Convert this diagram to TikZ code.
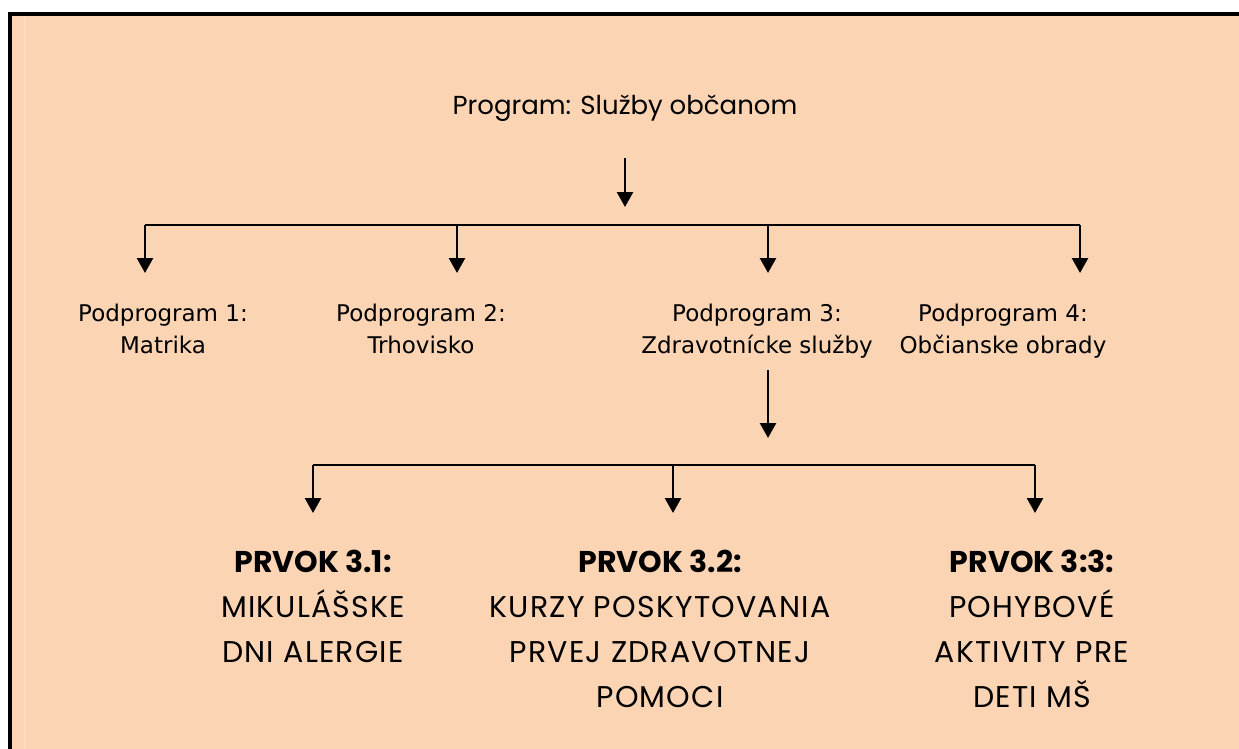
\documentclass[tikz,border=0pt]{standalone}
\usepackage{fontspec}
\setmainfont{DejaVu Sans}
\newfontfamily\geofont{Poppins}
\newfontfamily\geowide[LetterSpace=4]{Poppins}
\usetikzlibrary{arrows.meta}
\definecolor{peach}{HTML}{FBD4B4}
\definecolor{peachlight}{HTML}{FCDCC2}
\tikzset{
  arr/.style={line width=2.5pt, -{Triangle[width=16pt,length=15pt]}},
  bus/.style={line width=2.5pt},
  titletext/.style={inner sep=0pt, anchor=base, font=\geofont\fontsize{26}{32}\selectfont},
  subtext/.style={inner sep=0pt, anchor=base, align=center, font=\fontsize{23}{32}\selectfont},
  elemtext/.style={inner sep=0pt, anchor=base, align=center, font=\geowide\fontsize{30}{45}\selectfont},
  elemhead/.style={font=\geofont\bfseries\fontsize{30}{45}\selectfont},
}
\newcommand{\elemhd}[1]{{\geofont\bfseries\fontsize{30}{45}\selectfont #1}}
\begin{document}
\begin{tikzpicture}[x=1pt,y=-1pt]
  \useasboundingbox (0,0) rectangle (1239,749);
  % frame: heavy top and left rule, peach panel
  \fill[white] (0,0) rectangle (1239,749);
  \fill[black] (8,12) rectangle (1239,749);
  \fill[peach] (12,16) rectangle (1239,749);
  \draw[peachlight, line width=1pt] (24,16) -- (24,749);

  % programme title
  \node[titletext] (prog) at (625,115) {Program: Služby občanom};

  % sub-programmes (anchored on the baseline of the last line)
  \node[subtext] (p1) at (163,353) {Podprogram 1:\\Matrika};
  \node[subtext] (p2) at (421,353) {Podprogram 2:\\Trhovisko};
  \node[subtext] (p3) at (757,353) {Podprogram 3:\\Zdravotnícke služby};
  \node[subtext] (p4) at (1003,353) {Podprogram 4:\\Občianske obrady};

  % elements of sub-programme 3
  \node[elemtext] (e1) at (313,662) {\elemhd{PRVOK 3.1:}\\MIKULÁŠSKE\\DNI ALERGIE};
  \node[elemtext] (e2) at (660,707) {\elemhd{PRVOK 3.2:}\\KURZY POSKYTOVANIA\\PRVEJ ZDRAVOTNEJ\\POMOCI};
  \node[elemtext] (e3) at (1032,707) {\elemhd{PRVOK 3:3:}\\POHYBOVÉ\\AKTIVITY PRE\\DETI MŠ};

  % first level connectors
  \coordinate (t0) at (625,158);
  \coordinate (t1) at (625,207);
  \coordinate (b1) at (145,225);
  \coordinate (b2) at (457,225);
  \coordinate (b3) at (768,225);
  \coordinate (b4) at (1080,225);
  \coordinate (a1) at (145,273);
  \coordinate (a2) at (457,273);
  \coordinate (a3) at (768,273);
  \coordinate (a4) at (1080,273);
  \draw[arr] (t0) -- (t1);
  \draw[bus] (b1) -- (b4);
  \draw[arr] (b1) -- (a1);
  \draw[arr] (b2) -- (a2);
  \draw[arr] (b3) -- (a3);
  \draw[arr] (b4) -- (a4);

  % second level connectors
  \coordinate (s0) at (768,370);
  \coordinate (s1) at (768,438);
  \coordinate (c1) at (313,465);
  \coordinate (c2) at (673,465);
  \coordinate (c3) at (1035,465);
  \coordinate (d1) at (313,513);
  \coordinate (d2) at (673,513);
  \coordinate (d3) at (1035,513);
  \draw[arr] (s0) -- (s1);
  \draw[bus] (c1) -- (c3);
  \draw[arr] (c1) -- (d1);
  \draw[arr] (c2) -- (d2);
  \draw[arr] (c3) -- (d3);
\end{tikzpicture}
\end{document}
